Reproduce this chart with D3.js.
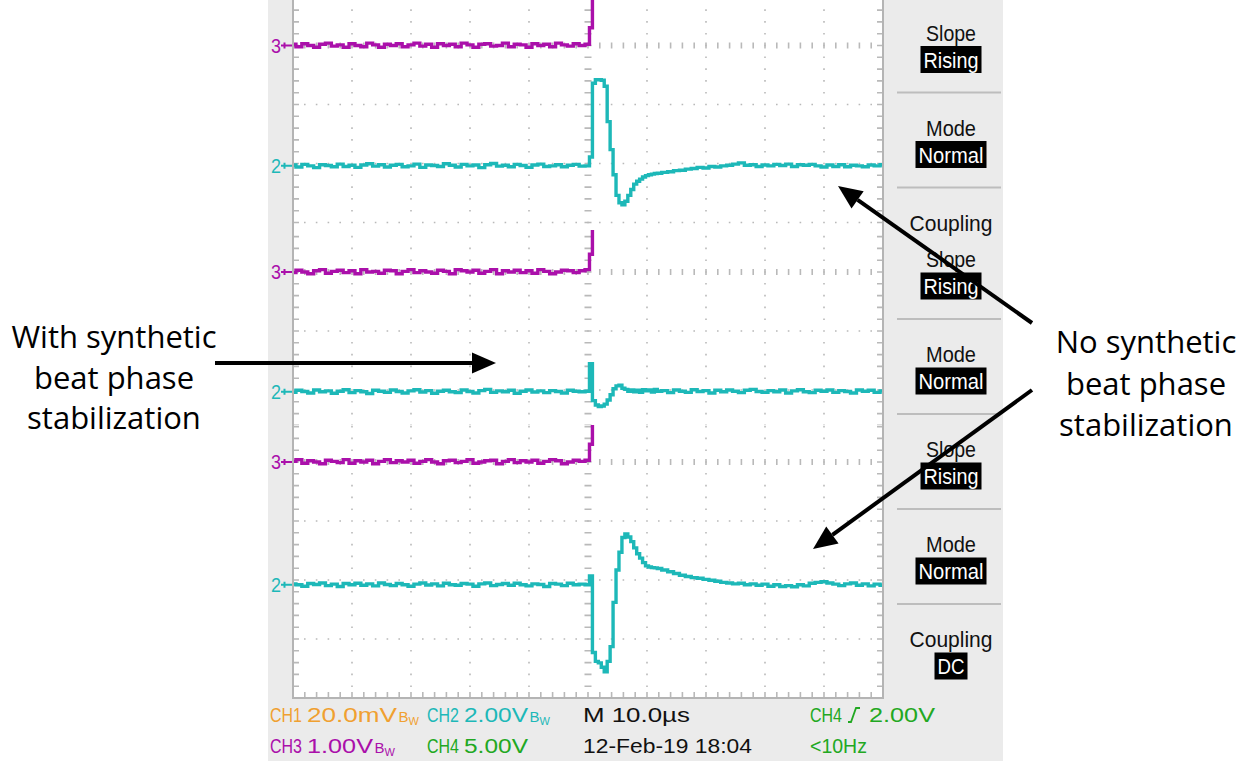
<!DOCTYPE html>
<html>
<head>
<meta charset="utf-8">
<script src="https://cdn.jsdelivr.net/npm/d3@7"></script>
<style>
  body { margin: 0; background: #fff; }
  svg { display: block; }
</style>
</head>
<body>
<svg id="chart" width="1247" height="761"></svg>
<script>
// ---------------- data ----------------
// Time base: 10 µs/div, trigger at screen centre
const sampleTimes = [...d3.range(-50, 0, 1), ...d3.range(0, 12.5, 0.5), ...d3.range(13, 51, 1)];
const triggerTimes = [...d3.range(-50, 1, 1), 0.5, 1, 50];

// CH2 (2.00 V/div) beat signal, volts — three acquisitions
const ch2NoStabTop = [
  0.03,-0.04,0.05,0.00,-0.06,0.04,0.01,-0.03,0.06,-0.02,
  0.02,-0.05,0.03,0.07,-0.01,0.04,-0.04,0.02,0.05,-0.03,
  0.00,0.06,-0.05,0.03,0.01,-0.02,0.07,0.02,-0.04,0.05,
  0.00,0.03,-0.06,0.04,0.08,-0.01,0.02,-0.03,0.05,0.01,
  -0.05,0.03,0.06,-0.02,0.00,0.04,-0.03,0.02,0.05,-0.01,
  0.00,0.30,2.80,2.92,2.92,2.90,2.70,1.50,0.55,-0.30,-1.00,-1.25,-1.32,
  -1.20,-1.00,-0.80,-0.62,-0.52,-0.45,-0.38,-0.33,-0.30,-0.28,-0.26,-0.25,
  -0.22,-0.20,-0.16,-0.15,-0.11,-0.09,-0.05,-0.07,-0.02,-0.04,
  0.00,0.02,0.06,0.10,0.02,0.04,-0.02,0.03,0.00,0.05,
  0.01,0.06,-0.02,0.04,0.02,0.05,0.00,-0.04,0.03,-0.02,
  0.04,-0.03,0.02,0.00,-0.03,0.03,0.00,0.04
];
const ch2WithStab = [
  -0.02,0.05,0.01,-0.04,0.06,0.00,0.03,-0.05,0.02,0.07,
  -0.03,0.04,0.00,-0.06,0.05,0.02,-0.02,0.06,0.01,-0.04,
  0.03,0.07,-0.01,0.04,-0.05,0.02,0.05,0.00,-0.03,0.06,
  0.01,-0.04,0.04,0.08,-0.02,0.03,0.00,0.05,-0.05,0.02,
  0.06,-0.01,0.03,-0.03,0.04,0.01,-0.04,0.05,0.02,0.00,
  0.02,0.95,-0.30,-0.45,-0.50,-0.48,-0.42,-0.28,-0.10,0.10,0.20,0.22,0.12,
  0.08,0.02,0.06,0.00,0.05,-0.02,0.07,0.03,0.06,-0.01,0.08,0.02,
  0.04,-0.03,0.06,0.02,-0.02,0.07,0.01,0.04,-0.04,0.05,
  0.00,0.06,0.02,-0.03,0.05,0.08,0.01,-0.02,0.04,0.00,
  0.06,-0.04,0.03,0.07,0.00,-0.03,0.05,0.02,0.06,-0.02,
  0.04,0.01,-0.04,0.06,0.02,0.05,-0.02,0.03
];
const ch2NoStabBottom = [
  0.03,0.00,-0.05,0.04,0.01,0.06,-0.03,0.02,-0.06,0.04,
  0.00,0.05,-0.02,0.03,-0.04,0.06,0.01,-0.03,0.04,0.00,
  -0.05,0.02,0.06,-0.01,0.03,-0.04,0.05,0.00,-0.02,0.04,
  0.02,-0.05,0.03,0.06,-0.03,0.01,0.04,-0.02,0.05,0.00,
  -0.04,0.03,0.01,-0.06,0.04,0.02,-0.03,0.05,0.00,0.02,
  0.00,0.30,-2.30,-2.60,-2.65,-2.80,-2.95,-2.60,-2.10,-0.60,0.50,1.10,1.60,
  1.72,1.62,1.46,1.25,1.05,0.90,0.75,0.64,0.60,0.58,0.57,0.55,
  0.50,0.44,0.38,0.32,0.28,0.24,0.22,0.18,0.15,0.12,
  0.08,0.06,0.03,0.05,0.00,0.03,-0.02,0.02,-0.05,0.00,
  -0.06,-0.03,-0.07,0.00,-0.04,0.05,0.08,0.10,0.06,0.02,
  -0.03,0.03,0.06,-0.02,0.03,-0.04,0.02,-0.02
];

// CH3 (1.00 V/div) trigger edge, volts
const ch3Top = [
  0.02,-0.02,0.03,0.00,-0.03,0.02,0.04,-0.01,0.01,-0.03,
  0.03,0.00,-0.02,0.04,0.01,-0.03,0.02,0.00,0.03,-0.02,
  0.01,0.04,-0.01,0.02,-0.03,0.03,0.00,0.02,-0.02,0.04,
  0.01,-0.03,0.02,0.03,-0.01,0.00,0.04,-0.02,0.02,0.01,
  -0.03,0.03,0.00,0.02,-0.02,0.04,0.01,-0.01,0.03,0.00,
  0.02,0.30,3.60,3.60
];
const ch3Middle = [
  -0.01,0.03,0.00,-0.03,0.02,0.04,-0.02,0.01,0.03,-0.01,
  0.02,-0.03,0.04,0.00,0.01,-0.02,0.03,0.02,-0.03,0.01,
  0.04,-0.01,0.02,0.00,-0.02,0.03,0.01,-0.03,0.04,0.02,
  0.00,0.03,-0.02,0.01,0.04,-0.03,0.02,0.00,0.03,-0.01,
  0.02,-0.02,0.04,0.01,-0.03,0.00,0.03,0.02,-0.01,0.02,
  0.04,0.30,3.60,3.60
];
const ch3Bottom = [
  0.01,0.04,-0.02,0.02,0.00,-0.03,0.03,0.01,-0.01,0.04,
  -0.02,0.02,0.00,0.03,-0.03,0.01,0.04,-0.01,0.02,0.00,
  0.03,-0.02,0.01,0.04,0.00,-0.03,0.02,0.03,-0.01,0.01,
  0.04,-0.02,0.00,0.02,0.03,-0.03,0.01,0.04,-0.01,0.02,
  0.00,0.03,-0.02,0.01,0.04,0.02,-0.03,0.00,0.03,0.01,
  0.03,0.30,3.60,3.60
];

const ch2Traces = [ch2NoStabTop, ch2WithStab, ch2NoStabBottom];
const ch3Traces = [ch3Top, ch3Middle, ch3Bottom];
const ch2VoltsPerDiv = 2.0;
const ch3VoltsPerDiv = 1.0;

// Side menu and status line
const menuLabels = ["Slope", "Mode", "Coupling"];
const menuValues = ["Rising", "Normal", "DC"];
const statusChannels = ["CH1", "CH2", "CH3", "CH4"];
const statusScales = ["20.0mV", "2.00V", "1.00V", "5.00V"];
const statusBwLimit = [true, true, true, false];
const timebaseText = "M 10.0\u00b5s";
const dateText = "12-Feb-19 18:04";
const triggerSource = "CH4";
const triggerLevel = "2.00V";
const triggerFreq = "<10Hz";

const leftNote = ["With synthetic", "beat phase", "stabilization"];
const rightNote = ["No synthetic", "beat phase", "stabilization"];

// ---------------- layout ----------------
const svg = d3.select("#chart");
const defs = svg.append("defs");
const plotL = 293, plotR = 883, plotB = 698, divPx = 59;
const scopeFont = "'Liberation Sans', Arial, sans-serif";
const noteFont = "'Open Sans', 'Noto Sans', sans-serif";
const colors = { ch1: "#f0a030", ch2: "#1db8b8", ch3: "#aa10aa", ch4: "#22a822", grid: "#b9b9b9", panel: "#ebebeb" };

// on-screen width (px) of each scope string
const scopeWidth = {
  "Slope": 50, "Mode": 50, "Coupling": 83, "Rising": 55, "Normal": 65, "DC": 27,
  "CH1": 32, "CH2": 32, "CH3": 32, "CH4": 32,
  "20.0mV": 90, "2.00V": 64, "1.00V": 66, "5.00V": 64,
  "M 10.0\u00b5s": 107, "12-Feb-19 18:04": 169, "<10Hz": 57, "trig2.00V": 66
};
function scopeText(sel, x, y, str, size, fill, anchor, widthKey) {
  const t = sel.append("text").attr("x", 0).attr("y", 0)
    .attr("font-family", scopeFont).attr("font-size", size).attr("fill", fill)
    .attr("text-anchor", anchor || "start").text(str);
  const target = scopeWidth[widthKey || str];
  const sx = target ? target / t.node().getComputedTextLength() : 1;
  t.attr("transform", `translate(${x},${y}) scale(${sx},1)`);
  return t;
}

// each stacked acquisition: visible band of the screen and graticule centre line
const panels = [
  { top: 0, bottom: 230, menuTop: 0, menuBottom: 249, center: 45.5, ch2Ground: -2.04 },
  { top: 230, bottom: 425, menuTop: 249, menuBottom: 425, center: 272, ch2Ground: -2.03 },
  { top: 425, bottom: 698, menuTop: 425, menuBottom: 698, center: 462, ch2Ground: -2.08 }
];

const x = d3.scaleLinear().domain([-50, 50]).range([plotL, plotR]);
const minorT = d3.range(-50, 50.001, 2);
const majorT = [-40, -30, -20, -10, 10, 20, 30, 40];
const minorDiv = d3.range(-20, 21).map(k => k / 5);
const majorDiv = [-3, -2, -1, 1, 2, 3];

// backgrounds
svg.append("rect").attr("width", 1247).attr("height", 761).attr("fill", "#fff");
svg.append("rect").attr("x", 268).attr("y", 0).attr("width", 1003 - 268).attr("height", 761).attr("fill", colors.panel);
svg.append("rect").attr("x", plotL).attr("y", 0).attr("width", plotR - plotL).attr("height", plotB).attr("fill", "#fff");

panels.forEach((p, i) => {
  const y = d3.scaleLinear().domain([-4, 4]).range([p.center + 4 * divPx, p.center - 4 * divPx]);
  defs.append("clipPath").attr("id", "left" + i)
    .append("rect").attr("x", 268).attr("y", p.top).attr("width", plotR - 268).attr("height", p.bottom - p.top);
  defs.append("clipPath").attr("id", "plot" + i)
    .append("rect").attr("x", plotL).attr("y", p.top).attr("width", plotR - plotL).attr("height", p.bottom - p.top);
  defs.append("clipPath").attr("id", "menu" + i)
    .append("rect").attr("x", plotR).attr("y", p.menuTop).attr("width", 1003 - plotR).attr("height", p.menuBottom - p.menuTop);

  const gl = svg.append("g").attr("clip-path", `url(#left${i})`);
  const gp = svg.append("g").attr("clip-path", `url(#plot${i})`);
  const gm = svg.append("g").attr("clip-path", `url(#menu${i})`);

  // dotted graticule
  let dots = "";
  majorT.forEach(t => minorDiv.forEach(d => { dots += `M${x(t) - 0.8},${y(d) - 0.8}h1.6v1.6h-1.6z`; }));
  majorDiv.forEach(d => minorT.forEach(t => { dots += `M${x(t) - 0.8},${y(d) - 0.8}h1.6v1.6h-1.6z`; }));
  gp.append("path").attr("d", dots).attr("fill", colors.grid);

  // centre cross and border tick marks
  let ticks = "";
  minorDiv.forEach(d => {
    ticks += `M${x(0) - 3.5},${y(d)}h7`;
    ticks += `M${plotL},${y(d)}h6`;
    ticks += `M${plotR - 6},${y(d)}h6`;
  });
  minorT.forEach(t => {
    ticks += `M${x(t)},${y(0) - 3}v6`;
    ticks += `M${x(t)},${y(-4) - 6}v6`;
  });
  gp.append("path").attr("d", ticks).attr("stroke", colors.grid).attr("stroke-width", 1.6).attr("fill", "none");

  // traces (digitised record, drawn as steps)
  const ch3Line = d3.line().curve(d3.curveStep)
    .x((v, j) => x(triggerTimes[j])).y(v => y(v / ch3VoltsPerDiv));
  const ch2Line = d3.line().curve(d3.curveStep)
    .x((v, j) => x(sampleTimes[j])).y(v => y(p.ch2Ground + v / ch2VoltsPerDiv));
  gp.append("path").attr("d", ch3Line(ch3Traces[i])).attr("fill", "none")
    .attr("stroke", colors.ch3).attr("stroke-width", 3.4);
  gp.append("path").attr("d", ch2Line(ch2Traces[i])).attr("fill", "none")
    .attr("stroke", colors.ch2).attr("stroke-width", 3.4);

  // ground reference markers
  [[3, 0, colors.ch3], [2, p.ch2Ground, colors.ch2]].forEach(([n, lvl, c]) => {
    const yy = y(lvl);
    gl.append("text").attr("x", 0).attr("y", 0).attr("text-anchor", "end")
      .attr("font-family", scopeFont).attr("font-size", 20).attr("fill", c)
      .attr("transform", `translate(281,${yy + 7}) scale(0.9,1)`).text(n);
    gl.append("path").attr("d", `M281,${yy}H295M284.5,${yy - 3}v6`).attr("stroke", c).attr("stroke-width", 2);
  });

  // side menu (only the entries falling inside this band)
  const menuX = 951;
  [-1, 0, 1, 2].forEach(k => {
    const sy = p.center + 47 + 95 * k;
    if (sy < p.menuTop || sy > p.menuBottom) return;
    gm.append("line").attr("x1", 897).attr("x2", 1001).attr("y1", sy).attr("y2", sy)
      .attr("stroke", "#bdbdbd").attr("stroke-width", 2);
  });
  menuLabels.forEach((lab, k) => {
    const ly = p.center - 13 + 95 * k;
    if (ly >= p.menuTop && ly <= p.menuBottom) {
      scopeText(gm, menuX, ly + 8, lab, 22, "#111", "middle");
    }
    const cy = p.center + 14 + 95 * k;
    if (cy >= p.menuTop && cy <= p.menuBottom) {
      const w = scopeWidth[menuValues[k]];
      gm.append("rect").attr("x", menuX - w / 2 - 3).attr("y", cy - 13.5)
        .attr("width", w + 6).attr("height", 27).attr("fill", "#000");
      scopeText(gm, menuX, cy + 8, menuValues[k], 22, "#fff", "middle");
    }
  });
});

// screen border
svg.append("path")
  .attr("d", `M${plotL},0V${plotB}H${plotR}V0`)
  .attr("fill", "none").attr("stroke", "#b4b4b4").attr("stroke-width", 2);

// status line
const statusG = svg.append("g");
const chColor = [colors.ch1, colors.ch2, colors.ch3, colors.ch4];
const colX = [270, 427], rowY = [722, 753];
statusChannels.forEach((ch, i) => {
  const cx = colX[i % 2], cy = rowY[Math.floor(i / 2)];
  scopeText(statusG, cx, cy, ch, 21, chColor[i]);
  const vx = cx + 37;
  scopeText(statusG, vx, cy, statusScales[i], 21, chColor[i]);
  if (statusBwLimit[i]) {
    const bx = vx + scopeWidth[statusScales[i]] + 1.5;
    statusG.append("text").attr("x", bx).attr("y", cy).attr("font-family", scopeFont)
      .attr("font-size", 15).attr("fill", chColor[i]).text("B");
    statusG.append("text").attr("x", bx + 10).attr("y", cy + 3).attr("font-family", scopeFont)
      .attr("font-size", 11).attr("fill", chColor[i]).text("W");
  }
});
scopeText(statusG, 583, rowY[0], timebaseText, 21, "#111");
scopeText(statusG, 583, rowY[1], dateText, 21, "#111");
scopeText(statusG, 810, rowY[0], triggerSource, 21, colors.ch4);
statusG.append("path").attr("d", `M848,${rowY[0]}h3l5,-14h4`).attr("fill", "none")
  .attr("stroke", colors.ch4).attr("stroke-width", 1.8);
scopeText(statusG, 869, rowY[0], triggerLevel, 21, colors.ch4, "start", "trig2.00V");
scopeText(statusG, 810, rowY[1], triggerFreq, 21, colors.ch4);

// annotations
const noteG = svg.append("g").attr("font-family", noteFont).attr("font-size", 31).attr("fill", "#000")
  .attr("text-anchor", "middle");
leftNote.forEach((s, k) => noteG.append("text").attr("x", 114).attr("y", 348 + 40.5 * k).text(s));
rightNote.forEach((s, k) => noteG.append("text").attr("x", 1146).attr("y", 353 + 41.5 * k).text(s));

function arrow(x1, y1, x2, y2) {
  const L = 24, w = 10.5, a = Math.atan2(y2 - y1, x2 - x1);
  const bx = x2 - L * Math.cos(a), by = y2 - L * Math.sin(a);
  svg.append("line").attr("x1", x1).attr("y1", y1).attr("x2", bx).attr("y2", by)
    .attr("stroke", "#000").attr("stroke-width", 4);
  svg.append("path")
    .attr("d", `M${x2},${y2}L${bx - w * Math.sin(a)},${by + w * Math.cos(a)}L${bx + w * Math.sin(a)},${by - w * Math.cos(a)}Z`)
    .attr("fill", "#000");
}
arrow(215, 363, 496, 363);
arrow(1032, 323, 838, 186);
arrow(1032, 390, 813, 549);
</script>
</body>
</html>
